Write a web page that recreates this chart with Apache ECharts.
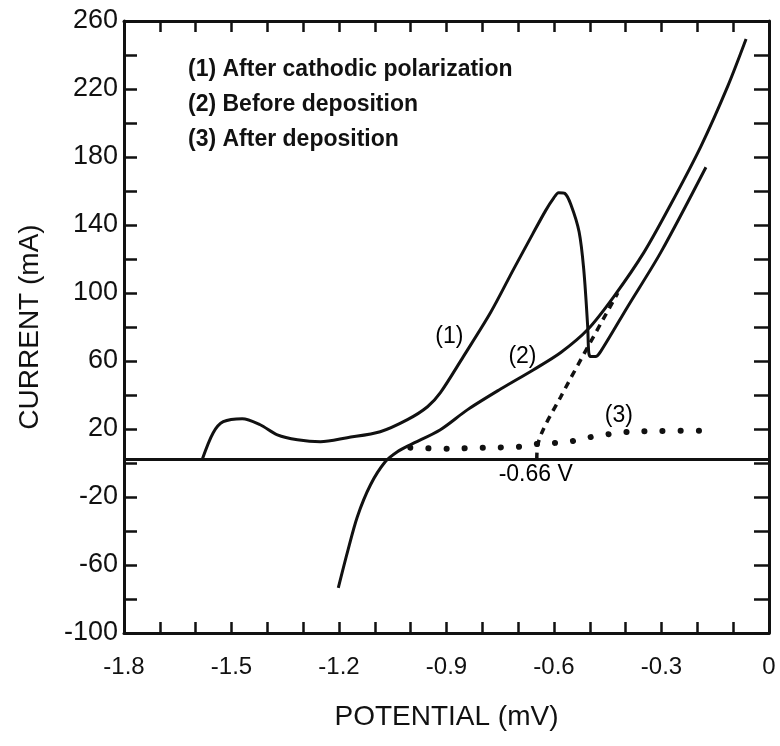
<!DOCTYPE html>
<html>
<head>
<meta charset="utf-8">
<script src="https://cdn.jsdelivr.net/npm/echarts@6/dist/echarts.min.js"></script>
<style>
  html, body { margin: 0; padding: 0; background: #fff; }
  #chart { width: 780px; height: 746px; }
</style>
</head>
<body>
<div id="chart"></div>
<script>
  // [potential (V), current (mA)]
  const afterPolarization = [
    [-1.582, 1.9], [-1.551, 17.8], [-1.523, 24.3], [-1.470, 26.1], [-1.420, 22.5],
    [-1.372, 16.6], [-1.316, 13.7], [-1.252, 12.5], [-1.177, 14.9], [-1.085, 18.4],
    [-1.009, 25.5], [-0.953, 33.1], [-0.917, 41.4], [-0.853, 62.6], [-0.777, 88.5],
    [-0.713, 113.9], [-0.660, 134.5], [-0.623, 148.6], [-0.601, 155.8], [-0.587, 159.0],
    [-0.570, 158.6], [-0.552, 151.5], [-0.530, 136.0], [-0.517, 113.9], [-0.506, 80.3],
    [-0.503, 64.9], [-0.498, 62.6], [-0.484, 62.6], [-0.470, 65.5], [-0.394, 92.1],
    [-0.302, 123.9], [-0.176, 174.0]
  ]
  const beforeDeposition = [
    [-1.202, -73.5], [-1.177, -52.9], [-1.149, -31.7], [-1.112, -12.8], [-1.071, 0.7],
    [-1.037, 6.6], [-1.001, 10.7], [-0.917, 19.6], [-0.841, 31.4], [-0.749, 43.5],
    [-0.657, 54.9], [-0.581, 65.0], [-0.506, 78.5], [-0.433, 97.9], [-0.349, 123.9],
    [-0.274, 152.2], [-0.190, 186.3], [-0.115, 221.7], [-0.064, 249.4]
  ]
  const afterDeposition = [
    [-1.001, 9.0], [-0.897, 8.4], [-0.797, 9.0], [-0.693, 9.6], [-0.643, 11.3],
    [-0.593, 11.9], [-0.542, 13.1], [-0.492, 15.5], [-0.439, 17.2], [-0.389, 18.4],
    [-0.300, 18.8], [-0.187, 19.0]
  ]
  const tangent = [[-0.648, 2], [-0.646, 10], [-0.581, 39], [-0.422, 100]]
  const zeroLine = [[-1.8, 2], [0, 2]]

  const seriesNames = ['(1) After cathodic polarization', '(2) Before deposition', '(3) After deposition']
  const noteText = ['(1)', '(2)', '(3)', '-0.66 V']
  const noteAt = [[-0.892, 74.4], [-0.688, 62.6], [-0.419, 27.8], [-0.651, -7.0]]

  const xMin = -1.8, xMax = 0, xStep = 0.3
  const yMin = -100, yMax = 260, yStep = 40

  const ink = '#111'
  const font = 'Liberation Sans, Arial, sans-serif'

  const chart = echarts.init(document.getElementById('chart'))

  function frameAxis(extra) {
    return Object.assign({
      type: 'value',
      axisLine: { show: true, onZero: false, lineStyle: { color: ink, width: 3 } },
      axisTick: { show: true, inside: true, length: 11, lineStyle: { color: ink, width: 2.5 } },
      minorTick: { show: true, length: 11, lineStyle: { color: ink, width: 2.5 } },
      splitLine: { show: false },
      minorSplitLine: { show: false }
    }, extra)
  }

  const line = (name, data, style) => ({
    name: name,
    type: 'line',
    data: data,
    symbol: 'none',
    smooth: 0.3,
    silent: true,
    lineStyle: Object.assign({ color: ink, width: 3 }, style)
  })

  chart.setOption({
    animation: false,
    backgroundColor: '#fff',
    grid: { left: 124, right: 11, top: 21, bottom: 113, outerBoundsMode: 'none' },
    legend: {
      data: seriesNames,
      orient: 'vertical',
      left: 178,
      top: 50,
      icon: 'none',
      itemWidth: 0,
      itemHeight: 0,
      itemGap: 5,
      selectedMode: false,
      textStyle: { color: ink, fontSize: 23, fontWeight: 'bold', fontFamily: font, lineHeight: 30 }
    },
    xAxis: [
      frameAxis({
        min: xMin, max: xMax, interval: xStep,
        minorTick: { show: true, splitNumber: 3, length: 11, lineStyle: { color: ink, width: 2.5 } },
        axisLabel: {
          color: ink, fontSize: 24, fontFamily: font, margin: 22,
          formatter: v => Math.abs(v) < 1e-9 ? '0' : v.toFixed(1)
        },
        name: 'POTENTIAL (mV)',
        nameLocation: 'middle',
        nameGap: 70,
        nameTextStyle: { color: ink, fontSize: 28, fontFamily: font }
      }),
      frameAxis({
        position: 'top',
        min: xMin, max: xMax, interval: xStep,
        minorTick: { show: true, splitNumber: 3, length: 11, lineStyle: { color: ink, width: 2.5 } },
        axisLabel: { show: false }
      })
    ],
    yAxis: [
      frameAxis({
        min: yMin, max: yMax, interval: yStep,
        axisTick: { show: true, inside: true, length: 13, lineStyle: { color: ink, width: 2.5 } },
        minorTick: { show: true, splitNumber: 2, length: 13, lineStyle: { color: ink, width: 2.5 } },
        axisLabel: { color: ink, fontSize: 27, fontFamily: font, margin: 6 },
        name: 'CURRENT (mA)',
        nameLocation: 'middle',
        nameGap: 80,
        nameTextStyle: { color: ink, fontSize: 28, fontFamily: font }
      }),
      frameAxis({
        position: 'right',
        min: yMin, max: yMax, interval: yStep,
        axisTick: { show: true, inside: true, length: 15, lineStyle: { color: ink, width: 2.5 } },
        minorTick: { show: true, splitNumber: 2, length: 15, lineStyle: { color: ink, width: 2.5 } },
        axisLabel: { show: false }
      })
    ],
    series: [
      line('zero', zeroLine, { width: 3 }),
      line(seriesNames[0], afterPolarization, {}),
      line(seriesNames[1], beforeDeposition, {}),
      line(seriesNames[2], afterDeposition, { width: 6, type: [0.1, 18], cap: 'round' }),
      line('tangent', tangent, { width: 3.5, type: [7, 6] }),
      {
        name: 'notes',
        type: 'scatter',
        symbolSize: 0,
        silent: true,
        itemStyle: { opacity: 1 },
        data: noteAt.map((p, i) => [p[0], p[1], noteText[i]]),
        label: {
          show: true,
          position: 'inside',
          formatter: p => p.value[2],
          color: '#000',
          fontSize: 23,
          fontFamily: font
        }
      }
    ]
  })
</script>
</body>
</html>
